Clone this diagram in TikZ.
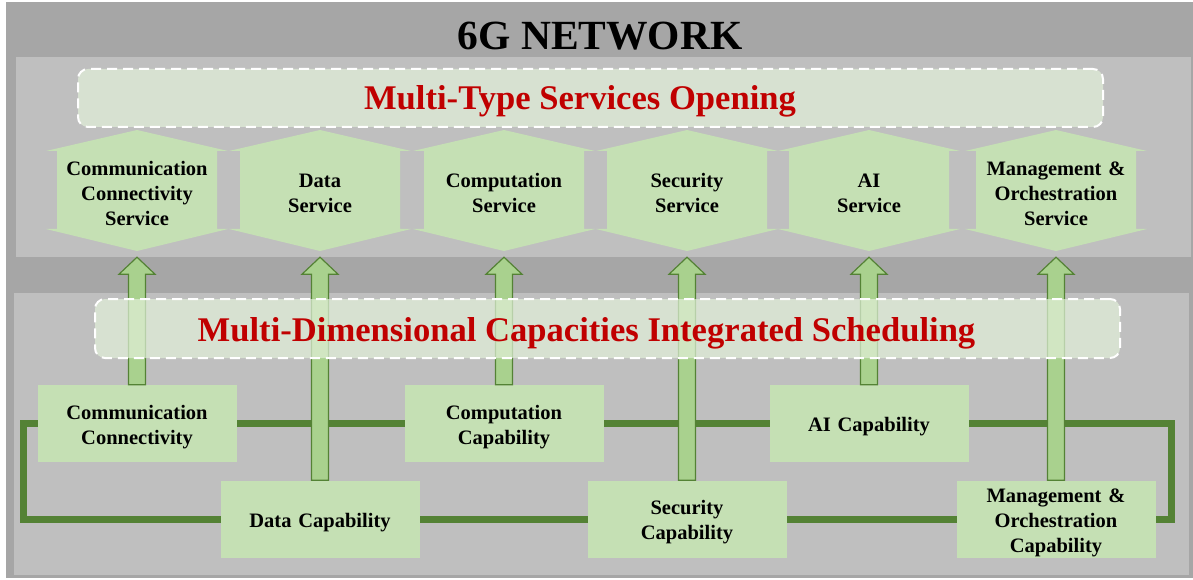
\documentclass[tikz,border=0pt]{standalone}
\usepackage{fontspec}
\setmainfont{Liberation Serif}
\usetikzlibrary{calc,backgrounds}

\definecolor{outergray}{HTML}{A6A6A6}
\definecolor{panelgray}{HTML}{BFBFBF}
\definecolor{boxgreen}{HTML}{C5E0B4}
\definecolor{arrowgreen}{HTML}{A9D18E}
\definecolor{darkgreen}{HTML}{548235}
\definecolor{titlered}{HTML}{C00000}
\definecolor{veilgreen}{HTML}{E2F0D9}

\tikzset{
  capbox/.style={fill=boxgreen, minimum width=199pt, minimum height=77pt, inner sep=0pt,
    text width=199pt, align=center, font=\fontsize{20.5}{25}\selectfont\bfseries,
    execute at begin node={\rule{0pt}{20.5pt}}},
  svctext/.style={minimum width=182pt, minimum height=121pt, inner sep=0pt,
    text width=182pt, align=center, font=\fontsize{20.5}{25}\selectfont\bfseries,
    execute at begin node={\rule{0pt}{19.5pt}}},
  veil/.style={fill=veilgreen, fill opacity=0.7, draw=white, line width=2pt,
    dash pattern=on 10pt off 6pt, rounded corners=10pt, inner sep=0pt},
  redtitle/.style={text=titlered, font=\fontsize{34.6}{40}\selectfont\bfseries},
  fatarrow/.style={fill=arrowgreen, draw=darkgreen, line width=1.2pt, line join=miter},
  loopline/.style={draw=darkgreen, line width=7pt, line join=miter}
}

\begin{document}
\begin{tikzpicture}[x=1pt,y=1pt]
\useasboundingbox (0,0) rectangle (1193,579);

\begin{scope}[on background layer]
\fill[outergray] (6,1) rectangle (1193,577);
\fill[panelgray] (16,322) rectangle (1191,522);
\fill[panelgray] (14,4) rectangle (1189,286);
\end{scope}

\node[anchor=base, font=\fontsize{41.5}{48}\selectfont\bfseries] (title) at (600,529) {6G NETWORK};

% capabilities
\node[capbox] (comm) at (137,155.5) {Communication\\Connectivity};
\node[capbox] (comp) at (504,155.5) {Computation\\Capability};
\node[capbox] (ai) at (869,155.5) {AI Capability};
\node[capbox] (data) at (320,60) {Data Capability};
\node[capbox] (sec) at (687,60) {Security\\Capability};
\node[capbox] (mgmt) at (1056,60) {Management \&\\Orchestration\\Capability};

\coordinate (lt) at (23.5,155.5);
\coordinate (rt) at (1171.5,155.5);
\begin{scope}[on background layer]
\draw[loopline] (comm.center) -- (lt) |- (data.center) -- (sec.center) -- (mgmt.center) -| (rt) -- (comm.center);
\end{scope}

% services
\foreach \cx/\nm/\txt in {137/commS/{Communication\\Connectivity\\Service}, 320/dataS/{Data\\Service},
    504/compS/{Computation\\Service}, 687/secS/{Security\\Service}, 869/aiS/{AI\\Service},
    1056/mgmtS/{Management \&\\Orchestration\\Service}} {
  \fill[boxgreen, shift={(\cx,388.5)}] (0,60.5) -- (91,39.5) -- (80,39.5) -- (80,-38.5) -- (91,-38.5)
    -- (0,-60.5) -- (-91,-38.5) -- (-80,-38.5) -- (-80,39.5) -- (-91,39.5) -- cycle;
  \node[svctext] (\nm) at (\cx,388.5) {\txt};
}

\foreach \a/\b in {comm/commS, data/dataS, comp/compS, sec/secS, ai/aiS, mgmt/mgmtS}
  \draw[fatarrow] let \p1=(\a.north), \p2=(\b.south) in
    (\x1-8.5pt,\y1) -- (\x1-8.5pt,\y2-23pt) -- (\x1-18pt,\y2-23pt) -- (\x1,\y2-6pt)
    -- (\x1+18pt,\y2-23pt) -- (\x1+8.5pt,\y2-23pt) -- (\x1+8.5pt,\y1) -- cycle;

% dashed bands
\node[veil, minimum width=1025pt, minimum height=58pt] (openband) at (590.5,481) {};
\node[veil, minimum width=1025pt, minimum height=59pt] (schedband) at (607.5,250.5) {};
\node[redtitle, anchor=base] (open) at (580,469) {Multi-Type Services Opening};
\node[redtitle, anchor=base] (sched) at (586.5,238) {Multi-Dimensional Capacities Integrated Scheduling};
\end{tikzpicture}
\end{document}
